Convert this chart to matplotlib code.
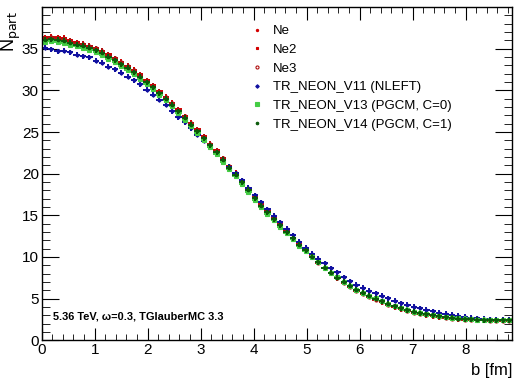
import matplotlib
matplotlib.use("Agg")
import matplotlib.pyplot as plt
import numpy as np
from matplotlib.ticker import MultipleLocator
from matplotlib.lines import Line2D

plt.rcParams["font.family"] = ["Liberation Sans", "DejaVu Sans"]

# impact parameter bins (0.12 fm wide)
bin_edges = np.linspace(0.0, 8.88, 75)
b = 0.5 * (bin_edges[1:] + bin_edges[:-1])

ne = [36.30, 36.40, 36.30, 36.25, 35.95, 35.75, 35.60, 35.35, 35.05, 34.75,
      34.30, 33.85, 33.40, 32.95, 32.45, 31.90, 31.20, 30.60, 29.85, 29.20,
      28.50, 27.70, 26.90, 26.10, 25.30, 24.45, 23.60, 22.80, 21.85, 20.90,
      20.10, 19.10, 18.20, 17.20, 16.30, 15.50, 14.70, 13.90, 13.10, 12.30,
      11.50, 10.80, 10.05, 9.35, 8.65, 8.06, 7.46, 6.93, 6.45, 5.97,
      5.60, 5.25, 4.90, 4.57, 4.27, 3.99, 3.75, 3.53, 3.33, 3.17,
      3.02, 2.90, 2.79, 2.70, 2.62, 2.55, 2.50, 2.46, 2.43, 2.40,
      2.38, 2.37, 2.36, 2.35]
ne2 = [36.35, 36.45, 36.35, 36.30, 36.00, 35.80, 35.62, 35.38, 35.08, 34.78,
       34.32, 33.88, 33.42, 32.97, 32.47, 31.92, 31.22, 30.62, 29.87, 29.22,
       28.52, 27.72, 26.92, 26.12, 25.32, 24.47, 23.62, 22.82, 21.87, 20.92,
       20.12, 19.12, 18.22, 17.22, 16.32, 15.52, 14.72, 13.92, 13.12, 12.32,
       11.52, 10.82, 10.07, 9.37, 8.67, 8.07, 7.47, 6.94, 6.46, 5.98,
       5.61, 5.26, 4.91, 4.58, 4.28, 4.00, 3.76, 3.54, 3.34, 3.18,
       3.03, 2.91, 2.80, 2.71, 2.63, 2.56, 2.51, 2.47, 2.44, 2.41,
       2.39, 2.38, 2.37, 2.36]
ne3 = [36.28, 36.38, 36.28, 36.22, 35.93, 35.73, 35.58, 35.33, 35.03, 34.73,
       34.28, 33.83, 33.38, 32.93, 32.43, 31.88, 31.18, 30.58, 29.83, 29.18,
       28.48, 27.68, 26.88, 26.08, 25.28, 24.43, 23.58, 22.78, 21.83, 20.88,
       20.08, 19.08, 18.18, 17.18, 16.28, 15.48, 14.68, 13.88, 13.08, 12.28,
       11.48, 10.78, 10.03, 9.33, 8.63, 8.05, 7.45, 6.92, 6.44, 5.96,
       5.59, 5.24, 4.89, 4.56, 4.26, 3.98, 3.74, 3.52, 3.32, 3.16,
       3.01, 2.89, 2.78, 2.69, 2.61, 2.54, 2.49, 2.45, 2.42, 2.39,
       2.37, 2.36, 2.35, 2.34]
v11 = [35.10, 34.95, 34.70, 34.73, 34.57, 34.30, 34.10, 33.95, 33.55, 33.30,
       32.85, 32.55, 32.10, 31.65, 31.20, 30.72, 30.10, 29.45, 28.85, 28.25,
       27.50, 26.80, 26.15, 25.45, 24.70, 23.95, 23.20, 22.45, 21.65, 20.85,
       20.05, 19.20, 18.30, 17.40, 16.55, 15.75, 14.95, 14.15, 13.40, 12.60,
       11.85, 11.10, 10.40, 9.80, 9.27, 8.66, 8.14, 7.54, 7.06, 6.65,
       6.30, 5.97, 5.66, 5.37, 5.05, 4.75, 4.47, 4.25, 4.04, 3.85,
       3.65, 3.49, 3.32, 3.16, 3.04, 2.92, 2.80, 2.72, 2.65, 2.57,
       2.53, 2.48, 2.45, 2.44]
v13 = [35.85, 35.90, 35.80, 35.70, 35.50, 35.30, 35.10, 34.85, 34.55, 34.25,
       33.80, 33.35, 32.90, 32.45, 31.95, 31.40, 30.75, 30.15, 29.45, 28.80,
       28.10, 27.30, 26.50, 25.70, 24.90, 24.05, 23.20, 22.40, 21.45, 20.55,
       19.70, 18.75, 17.85, 16.90, 16.00, 15.20, 14.40, 13.65, 12.85, 12.10,
       11.35, 10.70, 10.00, 9.35, 8.70, 8.12, 7.54, 7.02, 6.55, 6.08,
       5.72, 5.37, 5.02, 4.69, 4.39, 4.11, 3.87, 3.65, 3.45, 3.28,
       3.13, 3.00, 2.88, 2.79, 2.70, 2.62, 2.56, 2.52, 2.48, 2.45,
       2.43, 2.42, 2.41, 2.40]
v14 = [36.05, 36.15, 36.05, 35.95, 35.70, 35.50, 35.35, 35.10, 34.80, 34.50,
       34.05, 33.60, 33.15, 32.70, 32.20, 31.65, 31.00, 30.40, 29.65, 29.00,
       28.30, 27.50, 26.70, 25.90, 25.10, 24.25, 23.40, 22.60, 21.65, 20.70,
       19.90, 18.95, 18.05, 17.05, 16.15, 15.35, 14.55, 13.80, 13.00, 12.22,
       11.45, 10.78, 10.05, 9.38, 8.72, 8.12, 7.53, 7.01, 6.53, 6.06,
       5.70, 5.35, 5.00, 4.67, 4.37, 4.09, 3.85, 3.63, 3.43, 3.26,
       3.11, 2.98, 2.86, 2.77, 2.68, 2.60, 2.54, 2.50, 2.46, 2.43,
       2.41, 2.40, 2.39, 2.38]

labels = ["Ne", "Ne2", "Ne3", "TR_NEON_V11 (NLEFT)",
          "TR_NEON_V13 (PGCM, C=0)", "TR_NEON_V14 (PGCM, C=1)"]

series = [
    (ne, "#d40000", "o", 1.6, True),
    (ne2, "#d40000", "s", 2.0, True),
    (ne3, "#b01010", "o", 2.2, False),
    (v11, "#1010a0", "D", 1.8, True),
    (v13, "#44cc44", "s", 2.2, True),
    (v14, "#0a5a0a", "o", 1.8, True),
]

fig = plt.figure(figsize=(5.23, 3.79), dpi=100)
ax = fig.add_axes([0.0797, 0.1021, 0.8998, 0.8786])

handles = []
for (y, col, mk, ms, filled), lab in zip(series, labels):
    ax.errorbar(b, y, xerr=0.06, yerr=0.3, fmt="none", ecolor=col,
                elinewidth=1.4, capsize=0)
    ax.plot(b, y, linestyle="none", marker=mk, ms=ms, color=col,
            mfc=col if filled else "none", mew=0.8)
    handles.append(Line2D([], [], linestyle="none", marker=mk, ms=ms,
                          color=col, mfc=col if filled else "none", mew=0.8))

ax.set_xlim(0, 8.88)
ax.set_ylim(0, 39.97)

ax.xaxis.set_major_locator(MultipleLocator(1))
ax.xaxis.set_minor_locator(MultipleLocator(0.2))
ax.yaxis.set_major_locator(MultipleLocator(5))
ax.yaxis.set_minor_locator(MultipleLocator(1))
ax.tick_params(which="both", direction="in", top=True, right=True,
               labelsize=11, pad=2)
ax.tick_params(axis="x", which="major", length=9)
ax.tick_params(axis="x", which="minor", length=4.5)
ax.tick_params(axis="y", which="major", length=12)
ax.tick_params(axis="y", which="minor", length=6)
for sp in ax.spines.values():
    sp.set_linewidth(1.0)

ax.set_xlabel("b [fm]", fontsize=12, loc="right", labelpad=4)
ax.set_ylabel(r"N$_{\mathrm{part}}$", fontsize=13, loc="top")
ax.yaxis.set_label_coords(-0.039, 0.988)

ax.text(0.023, 0.063, "5.36 TeV, \u03c9=0.3, TGlauberMC 3.3",
        transform=ax.transAxes, fontsize=7.9, fontweight="bold")

ax.legend(handles, labels, loc="upper left", bbox_to_anchor=(0.4437, 0.947),
          frameon=False, fontsize=9.5, handlelength=1.0, handletextpad=0.7,
          labelspacing=0.49, borderpad=0, borderaxespad=0)

fig.savefig("out.png", dpi=100)
